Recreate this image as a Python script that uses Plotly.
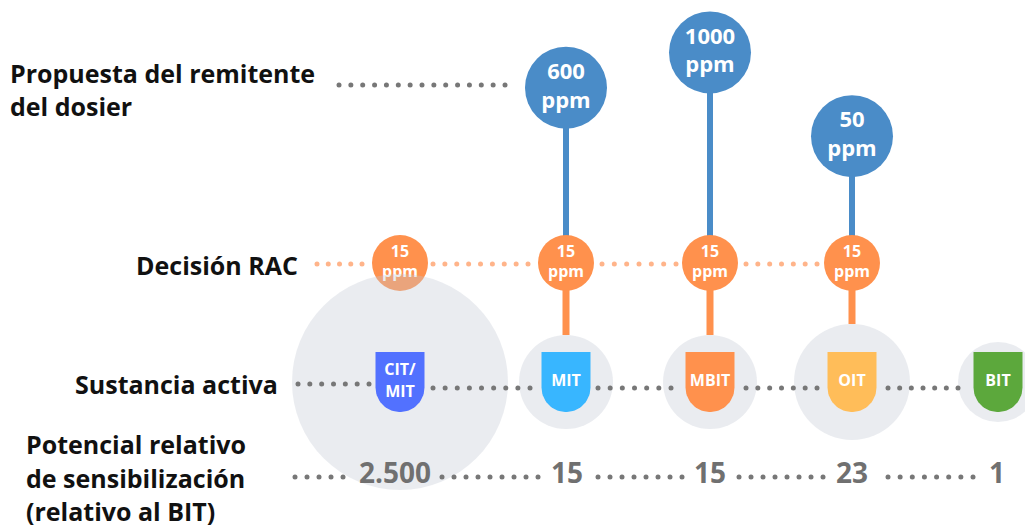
import numpy as np
import plotly.graph_objects as go

# ---------------- data ----------------
substances = ["CIT/MIT", "MIT", "MBIT", "OIT", "BIT"]
shield_labels = [["CIT/", "MIT"], ["MIT"], ["MBIT"], ["OIT"], ["BIT"]]
sensitization = ["2.500", "15", "15", "23", "1"]
rac_ppm = [15, 15, 15, 15, None]
proposal_ppm = [None, 600, 1000, 50, None]
unit = "ppm"
row_labels = {
    "prop": ["Propuesta del remitente", "del dosier"],
    "rac": ["Decisión RAC"],
    "sub": ["Sustancia activa"],
    "pot": ["Potencial relativo", "de sensibilización", "(relativo al BIT)"],
}

# ---------------- layout / style ----------------
W, H = 1025, 529
col_x = [400, 566, 710, 852, 998]
num_x = [395, 567, 710, 852, 997]
halo_r = [108, 47, 47, 58, 40]
halo_y = 382
rac_y = 263
pot_y = 476
shield_top, shield_w, shield_bot = 352, 49, 412
Y2_RANGE = [-4404, 1595]  # ppm axis for the proposals

BLUE = "#4A8CC8"
ORANGE = "#FF914D"
ORANGE_DOT = "#FFB48A"
GREY_DOT = "#777777"
HALO = "rgba(195,201,212,0.5)"
NUM_GREY = "#707070"
shield_colors = ["#5271FF", "#38B6FF", "#FF914D", "#FFBD59", "#5CA83C"]
FONT = "Open Sans"

dot_segments = {
    "prop": [(339, 505, 85)],
    "rac": [(317, 362, 264), (433, 528, 264), (602, 676, 264), (746, 817, 264)],
    "sub": [(298, 369, 384), (433, 530, 388), (598, 671, 388), (746, 817, 388), (888, 958, 388)],
    "pot": [(295, 343, 477), (442, 538, 477), (598, 682, 477), (739, 823, 477), (888, 973, 477)],
}


def ppm_to_px(v):
    r0, r1 = Y2_RANGE
    return H * (r1 - v) / (r1 - r0)


def dots(key):
    xs, ys = [], []
    for x0, x1, y in dot_segments[key]:
        n = int(round((x1 - x0) / 11.8)) + 1
        xs += list(np.linspace(x0, x1, n))
        ys += [y] * n
    return xs, ys


def text_trace(xs, ys, txt, size, color, yaxis="y"):
    return go.Scatter(x=xs, y=ys, yaxis=yaxis, mode="text", text=txt,
                      textposition="middle center",
                      textfont=dict(family=FONT, size=size, color=color, weight=700),
                      hoverinfo="skip")


fig = go.Figure()

# blue stems (proposal -> RAC)
for x, p in zip(col_x, proposal_ppm):
    if p is None:
        continue
    fig.add_trace(go.Scatter(x=[x, x], y=[ppm_to_px(p), rac_y], mode="lines",
                             line=dict(color=BLUE, width=6), hoverinfo="skip"))
# orange stems (RAC -> substance)
for x, p, r in zip(col_x, proposal_ppm, halo_r):
    if p is None:
        continue
    fig.add_trace(go.Scatter(x=[x, x], y=[rac_y, halo_y - r], mode="lines",
                             line=dict(color=ORANGE, width=7), hoverinfo="skip"))

# dotted guide rows (top)
for key, col in [("prop", GREY_DOT), ("rac", ORANGE_DOT)]:
    xs, ys = dots(key)
    fig.add_trace(go.Scatter(x=xs, y=ys, mode="markers",
                             marker=dict(size=5, color=col), hoverinfo="skip"))

# RAC circles
rx = [x for x, v in zip(col_x, rac_ppm) if v is not None]
rv = [v for v in rac_ppm if v is not None]
fig.add_trace(go.Scatter(x=rx, y=[rac_y] * len(rx), mode="markers",
                         marker=dict(size=56, color=ORANGE, line=dict(width=0)),
                         hoverinfo="skip"))
fig.add_trace(text_trace(rx, [rac_y] * len(rx), [f"{v}<br>{unit}" for v in rv], 16, "white"))

# proposal circles on ppm axis
px_ = [x for x, v in zip(col_x, proposal_ppm) if v is not None]
pv = [v for v in proposal_ppm if v is not None]
fig.add_trace(go.Scatter(x=px_, y=pv, yaxis="y2", mode="markers",
                         marker=dict(size=82, color=BLUE, line=dict(width=0)),
                         hoverinfo="skip"))
fig.add_trace(text_trace(px_, pv, [f"{v}<br>{unit}" for v in pv], 22, "white", yaxis="y2"))

# halo circles (size of sensitization potential)
fig.add_trace(go.Scatter(x=col_x, y=[halo_y] * len(col_x), mode="markers",
                         marker=dict(size=[2 * r for r in halo_r], color=HALO, line=dict(width=0)),
                         hoverinfo="skip"))

# dotted guide rows (bottom)
for key in ["sub", "pot"]:
    xs, ys = dots(key)
    fig.add_trace(go.Scatter(x=xs, y=ys, mode="markers",
                             marker=dict(size=5, color=GREY_DOT), hoverinfo="skip"))

# shields
hw = shield_w / 2
arc_c = shield_bot - hw
t = np.linspace(0, np.pi, 40)
for x, c in zip(col_x, shield_colors):
    sx = [x - hw, x + hw] + list(x + hw * np.cos(t)) + [x - hw]
    sy = [shield_top, shield_top] + list(arc_c + hw * np.sin(t)) + [shield_top]
    fig.add_trace(go.Scatter(x=sx, y=sy, mode="lines", fill="toself", fillcolor=c,
                             line=dict(width=0, color=c), hoverinfo="skip"))
lx, ly, lt = [], [], []
for x, lines in zip(col_x, shield_labels):
    ys = [382] if len(lines) == 1 else [371, 393]
    for y, s in zip(ys, lines):
        lx.append(x); ly.append(y); lt.append(s)
fig.add_trace(text_trace(lx, ly, lt, 16, "white"))

# sensitization numbers
fig.add_trace(text_trace(num_x, [pot_y] * len(num_x), sensitization, 28, NUM_GREY))

# row labels
ann = []
def lab(txt, x, y, anchor):
    ann.append(dict(text=txt, x=x, y=y, xref="x", yref="y", xanchor=anchor, yanchor="middle",
                    showarrow=False, font=dict(family=FONT, size=25, color="#111111", weight=700)))

lab(row_labels["prop"][0], 8, 73, "left")
lab(row_labels["prop"][1], 8, 106, "left")
lab(row_labels["rac"][0], 300, 265, "right")
lab(row_labels["sub"][0], 280, 384, "right")
for i, s in enumerate(row_labels["pot"]):
    lab(s, 24, 444 + 33.5 * i, "left")

fig.update_layout(
    width=W, height=H, margin=dict(l=0, r=0, t=0, b=0),
    paper_bgcolor="white", plot_bgcolor="white", showlegend=False,
    xaxis=dict(range=[0, W], visible=False, fixedrange=True),
    yaxis=dict(range=[H, 0], visible=False, fixedrange=True),
    yaxis2=dict(range=Y2_RANGE, overlaying="y", visible=False, fixedrange=True),
    annotations=ann,
)
fig.write_html("out.html", config={"displayModeBar": False},
               post_script="document.body.style.margin='0';document.body.style.overflow='hidden';")
